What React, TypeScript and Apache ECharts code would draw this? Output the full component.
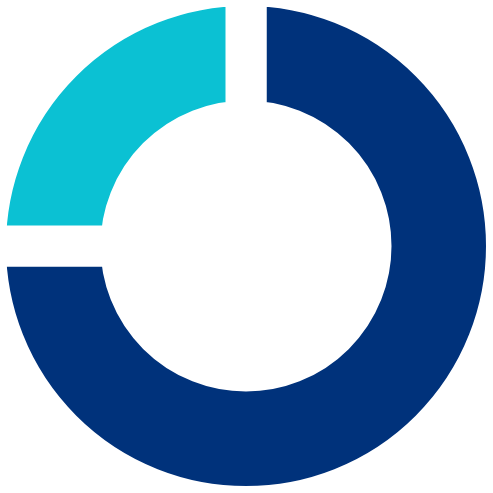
import { useEffect, useRef } from 'react';
import * as echarts from 'echarts';

const segmentNames = ['Main', 'Other'];
const segmentValues = [75, 25];
const segmentColors = ['#00327B', '#0BC1D3'];

function App() {
  const chartRef = useRef<HTMLDivElement>(null);

  useEffect(() => {
    if (!chartRef.current) return;
    const chart = echarts.init(chartRef.current, null, { renderer: 'svg' });

    chart.setOption({
      animation: false,
      backgroundColor: '#ffffff',
      series: [
        {
          type: 'pie',
          center: [246, 246],
          // white border eats half its width on each side, so radii are padded
          radius: [125, 260.5],
          startAngle: 90,
          clockwise: true,
          silent: true,
          label: { show: false },
          labelLine: { show: false },
          emphasis: { disabled: true },
          itemStyle: { borderColor: '#ffffff', borderWidth: 41 },
          data: segmentNames.map((name, i) => ({
            name,
            value: segmentValues[i],
            itemStyle: { color: segmentColors[i] },
          })),
        },
      ],
    });

    return () => chart.dispose();
  }, []);

  return (
    <div
      ref={chartRef}
      style={{ position: 'fixed', left: 0, top: 0, width: '493px', height: '493px' }}
    />
  );
}

export default App;
